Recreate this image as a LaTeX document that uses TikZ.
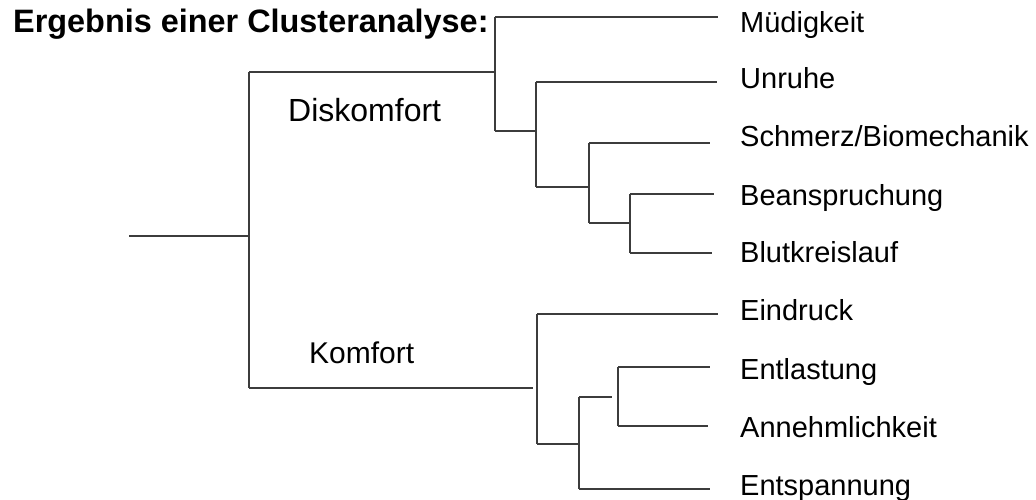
\documentclass[tikz,border=0pt]{standalone}
\usepackage{fontspec}
\setmainfont{Liberation Sans}
\definecolor{linegray}{RGB}{60,60,60}
\begin{document}
\begin{tikzpicture}[x=1pt,y=-1pt,
  link/.style={draw=linegray,line width=1.5pt,line cap=butt},
  leaf/.style={anchor=base west,inner sep=0pt,font=\fontsize{29}{29}\selectfont},
  group/.style={anchor=base west,inner sep=0pt,font=\fontsize{32}{32}\selectfont},
  heading/.style={anchor=base west,inner sep=0pt,font=\bfseries\fontsize{32.4}{32.4}\selectfont}]
\useasboundingbox (0,0) rectangle (1036,499);
% texts
\node[heading] (title) at (13,32) {Ergebnis einer Clusteranalyse:};
\node[group] (disk) at (288,121) {Diskomfort};
\node[group,font=\fontsize{30}{30}\selectfont] (komf) at (309,363) {Komfort};
\node[leaf] (l1) at (740,32) {Müdigkeit};
\node[leaf] (l2) at (740,88) {Unruhe};
\node[leaf] (l3) at (740,146) {Schmerz/Biomechanik};
\node[leaf] (l4) at (740,205) {Beanspruchung};
\node[leaf] (l5) at (740,262) {Blutkreislauf};
\node[leaf] (l6) at (740,320) {Eindruck};
\node[leaf] (l7) at (740,379) {Entlastung};
\node[leaf] (l8) at (740,437) {Annehmlichkeit};
\node[leaf] (l9) at (740,495) {Entspannung};
% junction coordinates
\coordinate (root) at (129,236);
\coordinate (r) at (249,236);
\coordinate (rtop) at (249,72);
\coordinate (rbot) at (249,388);
\coordinate (dA) at (495,72);
\coordinate (dAt) at (495,17);
\coordinate (dAb) at (495,131);
\coordinate (dB) at (536,131);
\coordinate (dBt) at (536,82);
\coordinate (dBb) at (536,187);
\coordinate (dC) at (589,187);
\coordinate (dCt) at (589,143);
\coordinate (dCb) at (589,223);
\coordinate (dD) at (630,223);
\coordinate (dDt) at (630,194);
\coordinate (dDb) at (630,253);
\coordinate (kA) at (533,388);
\coordinate (kAt) at (537,314);
\coordinate (kAb) at (537,444);
\coordinate (kB) at (579,444);
\coordinate (kBt) at (579,397);
\coordinate (kBb) at (579,489);
\coordinate (kC) at (612,397);
\coordinate (kCt) at (618,367);
\coordinate (kCb) at (618,426);
% leaf ends
\coordinate (e1) at (718,17);
\coordinate (e2) at (717,82);
\coordinate (e3) at (710,143);
\coordinate (e4) at (714,194);
\coordinate (e5) at (712,253);
\coordinate (e6) at (718,314);
\coordinate (e7) at (710,367);
\coordinate (e8) at (708,426);
\coordinate (e9) at (710,489);
% connectors
\draw[link] (root) -- (r);
\draw[link] (rtop) -- (rbot);
\draw[link] (rtop) -- (dA);
\draw[link] (dAt) -- (dAb);
\draw[link] (dAt) -- (e1);
\draw[link] (dAb) -- (dB);
\draw[link] (dBt) -- (dBb);
\draw[link] (dBt) -- (e2);
\draw[link] (dBb) -- (dC);
\draw[link] (dCt) -- (dCb);
\draw[link] (dCt) -- (e3);
\draw[link] (dCb) -- (dD);
\draw[link] (dDt) -- (dDb);
\draw[link] (dDt) -- (e4);
\draw[link] (dDb) -- (e5);
\draw[link] (rbot) -- (kA);
\draw[link] (kAt) -- (kAb);
\draw[link] (kAt) -- (e6);
\draw[link] (kAb) -- (kB);
\draw[link] (kBt) -- (kBb);
\draw[link] (kBt) -- (kC);
\draw[link] (kCt) -- (kCb);
\draw[link] (kCt) -- (e7);
\draw[link] (kCb) -- (e8);
\draw[link] (kBb) -- (e9);
\end{tikzpicture}
\end{document}
